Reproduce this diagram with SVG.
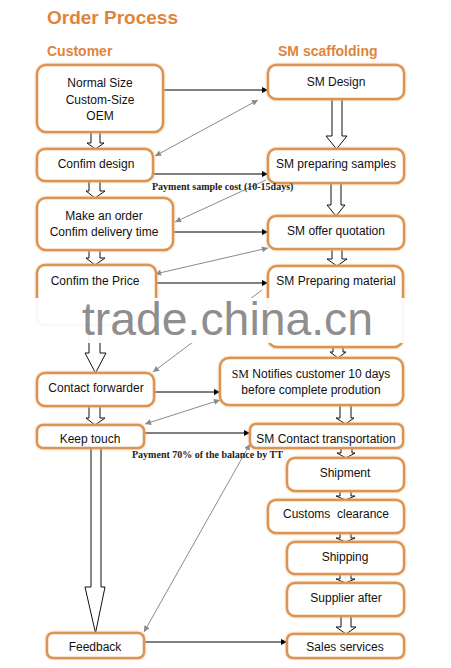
<svg xmlns="http://www.w3.org/2000/svg" width="451" height="668" viewBox="0 0 451 668">
<defs>
<style>
.title{font-family:"Liberation Sans",Arial,sans-serif;font-weight:bold;fill:#E0843C}
.box{fill:#fff;stroke:#DB9452;stroke-width:2.5;filter:url(#glow)}
.t{font-family:"Liberation Sans",Arial,sans-serif;font-size:12px;fill:#111;text-anchor:middle}
.serif{font-family:"Liberation Serif","Times New Roman",serif}
.pay{font-family:"Liberation Serif","Times New Roman",serif;font-size:10px;font-weight:bold;fill:#222}
.blk{fill:#fff;stroke:#111;stroke-width:1}
.cb{stroke:#000;stroke-width:1;fill:none;marker-end:url(#ab)}
.cg{stroke:#8a8a8a;stroke-width:1;fill:none;marker-end:url(#ag)}
.cg2{stroke:#8a8a8a;stroke-width:1;fill:none;marker-end:url(#ag);marker-start:url(#ag)}
</style>
<filter id="glow" x="-10%" y="-20%" width="120%" height="140%">
<feDropShadow dx="0" dy="0" stdDeviation="1.2" flood-color="#EBB27C" flood-opacity="0.9"/>
</filter>
<marker id="ab" viewBox="0 0 10 10" refX="10" refY="5" markerWidth="7" markerHeight="6" orient="auto" markerUnits="userSpaceOnUse"><path d="M0,0 L10,5 L0,10 z" fill="#000"/></marker>
<marker id="ag" viewBox="0 0 10 10" refX="10" refY="5" markerWidth="8" markerHeight="6" orient="auto-start-reverse" markerUnits="userSpaceOnUse"><path d="M0,0 L10,5 L0,10 z" fill="#8a8a8a"/></marker>
</defs>
<rect width="451" height="668" fill="#fff"/>
<text class="title" x="47" y="24" font-size="19">Order Process</text>
<text class="title" x="47" y="56" font-size="14">Customer</text>
<text class="title" x="278" y="56" font-size="14">SM scaffolding</text>

<g id="connectors">
<path class="blk" d="M91,132 L91,143 L87,143 L95.5,149 L104,143 L100,143 L100,132 Z"/>
<path class="blk" d="M89,181 L89,191 L86,191 L95,198 L105,191 L100,191 L100,181 Z"/>
<path class="blk" d="M89,250 L89,258 L86,258 L95,265 L105,258 L100,258 L100,250 Z"/>
<path class="blk" d="M89,320 L89,353 L85,353 L95.5,373 L106,353 L100,353 L100,320 Z"/>
<path class="blk" d="M89,406 L89,418 L86,418 L95,425 L105,418 L100,418 L100,406 Z"/>
<path class="blk" d="M91,448 L91,587 L85,587 L95.5,633 L105,587 L101,587 L101,448 Z"/>
<path class="blk" d="M332,99 L332,136 L326,136 L336.5,149 L347,136 L342,136 L342,99 Z"/>
<path class="blk" d="M331,183 L331,205 L327,205 L336,216 L345,205 L341,205 L341,183 Z"/>
<path class="blk" d="M332,249 L332,259 L327,259 L337,266 L347,259 L342,259 L342,249 Z"/>
<path class="blk" d="M333,347 L333,352 L330,352 L338,358 L346,352 L343,352 L343,347 Z"/>
<path class="blk" d="M340,405 L340,418 L336,418 L345.5,424 L354,418 L351,418 L351,405 Z"/>
<path class="blk" d="M341,448 L341,453 L337,453 L346,458 L355,453 L352,453 L352,448 Z"/>
<path class="blk" d="M340,491 L340,496 L336,496 L345.5,500 L355,496 L351,496 L351,491 Z"/>
<path class="blk" d="M340,533 L340,538 L336,538 L345.5,542 L355,538 L351,538 L351,533 Z"/>
<path class="blk" d="M340,574 L340,579 L336,579 L345.5,583 L355,579 L351,579 L351,574 Z"/>
<path class="blk" d="M341,616 L341,627 L336,627 L346,634 L356,627 L351,627 L351,616 Z"/>
<line class="cb" x1="163" y1="90" x2="268" y2="90"/>
<line class="cb" x1="153" y1="174" x2="268" y2="174"/>
<line class="cb" x1="173" y1="232" x2="268" y2="232"/>
<line class="cb" x1="156" y1="283" x2="268" y2="283"/>
<line class="cb" x1="154" y1="392" x2="220" y2="392"/>
<line class="cb" x1="144" y1="433" x2="250" y2="433"/>
<line class="cb" x1="144" y1="642" x2="287" y2="642"/>
<line class="cg2" x1="155" y1="156" x2="258" y2="100"/>
<line class="cg" x1="266" y1="180" x2="175" y2="222"/>
<line class="cg2" x1="155" y1="274" x2="268" y2="248"/>
<line class="cg" x1="262" y1="290" x2="153" y2="372"/>
<line class="cg2" x1="145" y1="424" x2="220" y2="400"/>
<line class="cg2" x1="144" y1="632" x2="250" y2="444"/>
</g>

<g id="n-normal"><rect class="box" x="37" y="65" width="126" height="67" rx="9"/><text class="t" x="100" y="87">Normal Size</text><text class="t" x="100" y="104">Custom-Size</text><text class="t" x="100" y="120">OEM</text></g>
<g id="n-confirm-design"><rect class="box" x="37" y="149" width="116" height="32" rx="8"/><text class="t" x="96" y="168">Confim design</text></g>
<g id="n-order"><rect class="box" x="37" y="198" width="136" height="52" rx="9"/><text class="t" x="104" y="220">Make an order</text><text class="t" x="104" y="236">Confim delivery time</text></g>
<g id="n-price"><rect class="box" x="37" y="265" width="119" height="60" rx="8"/><text class="t" x="95" y="285">Confim the Price</text></g>
<g id="n-forwarder"><rect class="box" x="37" y="373" width="117" height="33" rx="8"/><text class="t" x="96" y="392">Contact forwarder</text></g>
<g id="n-keep"><rect class="box" x="37" y="425" width="107" height="23" rx="6"/><text class="t" x="90" y="443">Keep touch</text></g>
<g id="n-feedback"><rect class="box" x="47" y="633" width="97" height="25" rx="6"/><text class="t" x="95" y="651">Feedback</text></g>

<g id="n-design"><rect class="box" x="268" y="65" width="136" height="34" rx="8"/><text class="t" x="336" y="86">SM Design</text></g>
<g id="n-samples"><rect class="box" x="268" y="149" width="136" height="34" rx="8"/><text class="t" x="336" y="168">SM preparing samples</text></g>
<g id="n-quotation"><rect class="box" x="268" y="216" width="136" height="33" rx="8"/><text class="t" x="336" y="235">SM offer quotation</text></g>
<g id="n-material"><rect class="box" x="268" y="266" width="135" height="81" rx="9"/><text class="t" x="336" y="285">SM Preparing material</text></g>
<g id="n-notifies"><rect class="box" x="220" y="358" width="183" height="47" rx="9"/><text class="t" x="311" y="378"><tspan class="serif">SM</tspan> Notifies customer 10 days</text><text class="t" x="311" y="394">before complete prodution</text></g>
<g id="n-transport"><rect class="box" x="250" y="424" width="153" height="24" rx="6"/><text class="t" x="326" y="443">SM Contact transportation</text></g>
<g id="n-shipment"><rect class="box" x="287" y="458" width="117" height="33" rx="8"/><text class="t" x="345" y="477">Shipment</text></g>
<g id="n-customs"><rect class="box" x="268" y="500" width="136" height="33" rx="8"/><text class="t" x="336" y="518" xml:space="preserve">Customs  clearance</text></g>
<g id="n-shipping"><rect class="box" x="287" y="542" width="117" height="32" rx="8"/><text class="t" x="345" y="561">Shipping</text></g>
<g id="n-supplier"><rect class="box" x="287" y="583" width="117" height="33" rx="8"/><text class="t" x="346" y="602">Supplier after</text></g>
<g id="n-sales"><rect class="box" x="287" y="634" width="117" height="24" rx="6"/><text class="t" x="345" y="651">Sales services</text></g>

<text class="pay" x="152" y="190">Payment sample cost (10-15days)</text>
<text class="pay" x="132" y="458">Payment 70% of the balance by TT</text>

<rect x="25" y="298" width="400" height="45" fill="#fff" opacity="0.93"/>
<text x="82" y="335" font-family="'Liberation Sans',Arial,sans-serif" font-size="46" fill="#8e8e8e" textLength="291" lengthAdjust="spacingAndGlyphs">trade.china.cn</text>
</svg>
